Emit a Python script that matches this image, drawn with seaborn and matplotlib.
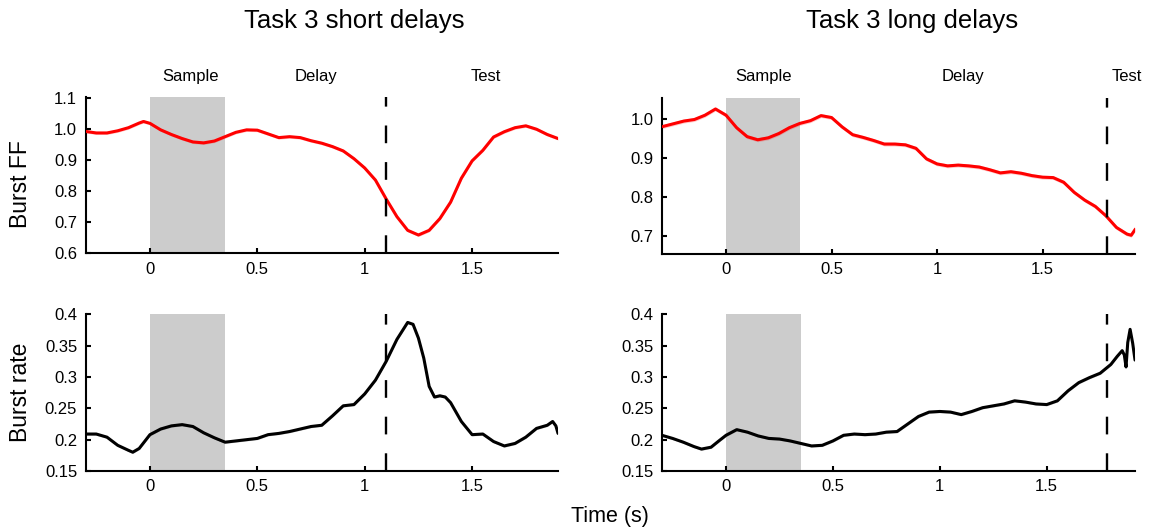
import matplotlib.pyplot as plt
import seaborn as sns

# ---- Task 3 short delays ----
t_ff_short = [-0.30, -0.25, -0.20, -0.15, -0.10, -0.05, -0.03, 0.00, 0.05, 0.10,
              0.15, 0.20, 0.25, 0.30, 0.35, 0.40, 0.45, 0.50, 0.55, 0.60,
              0.65, 0.70, 0.75, 0.80, 0.85, 0.90, 0.95, 1.00, 1.05, 1.10,
              1.15, 1.20, 1.25, 1.30, 1.35, 1.40, 1.45, 1.50, 1.55, 1.60,
              1.65, 1.70, 1.75, 1.80, 1.85, 1.90]
ff_short = [0.993, 0.988, 0.988, 0.995, 1.005, 1.020, 1.025, 1.019, 0.998, 0.983,
            0.970, 0.959, 0.956, 0.962, 0.976, 0.990, 0.998, 0.997, 0.985, 0.973,
            0.976, 0.973, 0.963, 0.955, 0.944, 0.930, 0.905, 0.875, 0.836, 0.775,
            0.718, 0.674, 0.659, 0.674, 0.712, 0.765, 0.842, 0.898, 0.932, 0.975,
            0.992, 1.005, 1.011, 1.000, 0.983, 0.970]

t_rate_short = [-0.30, -0.25, -0.20, -0.15, -0.10, -0.08, -0.05, 0.00, 0.05, 0.10,
                0.15, 0.20, 0.25, 0.30, 0.35, 0.40, 0.45, 0.50, 0.55, 0.60,
                0.65, 0.70, 0.75, 0.80, 0.85, 0.90, 0.95, 1.00, 1.05, 1.10,
                1.15, 1.20, 1.225, 1.25, 1.275, 1.30, 1.325, 1.35, 1.375, 1.40,
                1.45, 1.50, 1.55, 1.60, 1.65, 1.70, 1.75, 1.80, 1.85, 1.875,
                1.89, 1.90]
rate_short = [0.209, 0.209, 0.204, 0.191, 0.183, 0.180, 0.186, 0.208, 0.217, 0.222,
              0.224, 0.221, 0.211, 0.203, 0.196, 0.198, 0.200, 0.202, 0.208, 0.210,
              0.213, 0.217, 0.221, 0.223, 0.238, 0.254, 0.256, 0.273, 0.295, 0.325,
              0.360, 0.387, 0.384, 0.362, 0.330, 0.285, 0.268, 0.270, 0.268, 0.259,
              0.229, 0.208, 0.209, 0.197, 0.190, 0.194, 0.204, 0.218, 0.223, 0.229,
              0.222, 0.210]

# ---- Task 3 long delays ----
t_ff_long = [-0.30, -0.25, -0.20, -0.15, -0.10, -0.05, 0.00, 0.05, 0.10, 0.15,
             0.20, 0.25, 0.30, 0.35, 0.40, 0.45, 0.50, 0.55, 0.60, 0.65,
             0.70, 0.75, 0.80, 0.85, 0.90, 0.95, 1.00, 1.05, 1.10, 1.15,
             1.20, 1.25, 1.30, 1.35, 1.40, 1.45, 1.50, 1.55, 1.60, 1.65,
             1.70, 1.75, 1.80, 1.85, 1.90, 1.92, 1.94]
ff_long = [0.981, 0.988, 0.995, 0.999, 1.010, 1.026, 1.010, 0.978, 0.955, 0.947,
           0.952, 0.963, 0.978, 0.989, 0.996, 1.009, 1.004, 0.980, 0.960, 0.953,
           0.945, 0.936, 0.936, 0.934, 0.925, 0.898, 0.885, 0.880, 0.882, 0.880,
           0.877, 0.870, 0.862, 0.865, 0.861, 0.855, 0.851, 0.850, 0.838, 0.812,
           0.792, 0.776, 0.752, 0.722, 0.705, 0.702, 0.718]

t_rate_long = [-0.30, -0.25, -0.20, -0.15, -0.115, -0.07, -0.03, 0.00, 0.05, 0.10,
               0.15, 0.20, 0.25, 0.30, 0.35, 0.40, 0.45, 0.50, 0.55, 0.60,
               0.65, 0.70, 0.75, 0.80, 0.85, 0.90, 0.95, 1.00, 1.05, 1.10,
               1.15, 1.20, 1.25, 1.30, 1.35, 1.40, 1.45, 1.50, 1.55, 1.60,
               1.65, 1.70, 1.75, 1.80, 1.83, 1.853, 1.863, 1.871, 1.879, 1.89,
               1.902, 1.913]
rate_long = [0.207, 0.202, 0.196, 0.189, 0.185, 0.188, 0.199, 0.207, 0.216, 0.212,
             0.206, 0.202, 0.201, 0.198, 0.194, 0.190, 0.191, 0.198, 0.207, 0.209,
             0.208, 0.209, 0.212, 0.213, 0.225, 0.237, 0.244, 0.245, 0.244, 0.240,
             0.245, 0.251, 0.254, 0.257, 0.262, 0.260, 0.257, 0.256, 0.262, 0.278,
             0.291, 0.299, 0.306, 0.320, 0.333, 0.342, 0.335, 0.316, 0.355, 0.376,
             0.354, 0.327]

ff_sem = 0.005
rate_sem = 0.002

ff_short_ticks = [0.6, 0.7, 0.8, 0.9, 1.0, 1.1]
ff_short_labels = ['0.6', '0.7', '0.8', '0.9', '1.0', '1.1']
ff_long_ticks = [0.7, 0.8, 0.9, 1.0]
ff_long_labels = ['0.7', '0.8', '0.9', '1.0']
rate_ticks = [0.15, 0.2, 0.25, 0.3, 0.35, 0.4]
rate_labels = ['0.15', '0.2', '0.25', '0.3', '0.35', '0.4']
time_ticks = [0, 0.5, 1, 1.5]
time_labels = ['0', '0.5', '1', '1.5']
epoch_names = ['Sample', 'Delay', 'Test']

sns.set_theme(style='ticks')
plt.rcParams['font.family'] = ['Liberation Sans', 'DejaVu Sans']
plt.rcParams['text.color'] = 'black'
plt.rcParams['axes.labelcolor'] = 'black'

fig = plt.figure(figsize=(11.57, 5.30), dpi=100)
ax_tl = fig.add_axes([0.0739, 0.5221, 0.4084, 0.2955])
ax_tr = fig.add_axes([0.5719, 0.5208, 0.4091, 0.2949])
ax_bl = fig.add_axes([0.0739, 0.1113, 0.4084, 0.2957])
ax_br = fig.add_axes([0.5719, 0.1113, 0.4091, 0.2957])


def draw_panel(ax, t, v, sem, color, test_t, xlim, ylim, yticks, ylabels):
    ax.axvspan(0, 0.35, color='#cccccc', lw=0, zorder=0)
    lo = [a - sem for a in v]
    hi = [a + sem for a in v]
    ax.fill_between(t, lo, hi, color=color, alpha=0.2, lw=0, zorder=2)
    sns.lineplot(x=t, y=v, ax=ax, color=color, linewidth=2.2, zorder=3)
    ax.axvline(test_t, color='black', lw=1.7, dashes=(7.5, 8), zorder=4)
    ax.set_xlim(*xlim)
    ax.set_ylim(*ylim)
    ax.set_xticks(time_ticks)
    ax.set_xticklabels(time_labels)
    ax.set_yticks(yticks)
    ax.set_yticklabels(ylabels)
    ax.set_xlabel('')
    ax.set_ylabel('')
    sns.despine(ax=ax)
    for s in ['left', 'bottom']:
        ax.spines[s].set_linewidth(1.5)
        ax.spines[s].set_color('black')
    ax.tick_params(direction='in', length=3.5, width=1.5, labelsize=12,
                   colors='black', pad=6)


draw_panel(ax_tl, t_ff_short, ff_short, ff_sem, 'red', 1.1,
           (-0.3, 1.9), (0.6, 1.105), ff_short_ticks, ff_short_labels)
draw_panel(ax_tr, t_ff_long, ff_long, ff_sem, 'red', 1.807,
           (-0.305, 1.938), (0.654, 1.055), ff_long_ticks, ff_long_labels)
draw_panel(ax_bl, t_rate_short, rate_short, rate_sem, 'black', 1.1,
           (-0.3, 1.9), (0.15, 0.4), rate_ticks, rate_labels)
draw_panel(ax_br, t_rate_long, rate_long, rate_sem, 'black', 1.784,
           (-0.301, 1.913), (0.15, 0.4), rate_ticks, rate_labels)

# epoch labels above the top panels
for name, x in zip(epoch_names, [0.187, 0.772, 1.565]):
    ax_tl.text(x, 1.13, name, transform=ax_tl.get_xaxis_transform(),
               ha='center', va='center', fontsize=12, color='black')
for name, x in zip(epoch_names, [0.178, 1.122, 1.897]):
    ax_tr.text(x, 1.134, name, transform=ax_tr.get_xaxis_transform(),
               ha='center', va='center', fontsize=12, color='black')

fig.text(0.306, 0.960, 'Task 3 short delays', ha='center', va='center', fontsize=18.5)
fig.text(0.788, 0.960, 'Task 3 long delays', ha='center', va='center', fontsize=18.5)
fig.text(0.018, 0.653, 'Burst FF', rotation=90, ha='center', va='center', fontsize=16.5)
fig.text(0.018, 0.259, 'Burst rate', rotation=90, ha='center', va='center', fontsize=16.5)
fig.text(0.527, 0.025, 'Time (s)', ha='center', va='center', fontsize=15.5)

fig.savefig('out.png', dpi=100)
